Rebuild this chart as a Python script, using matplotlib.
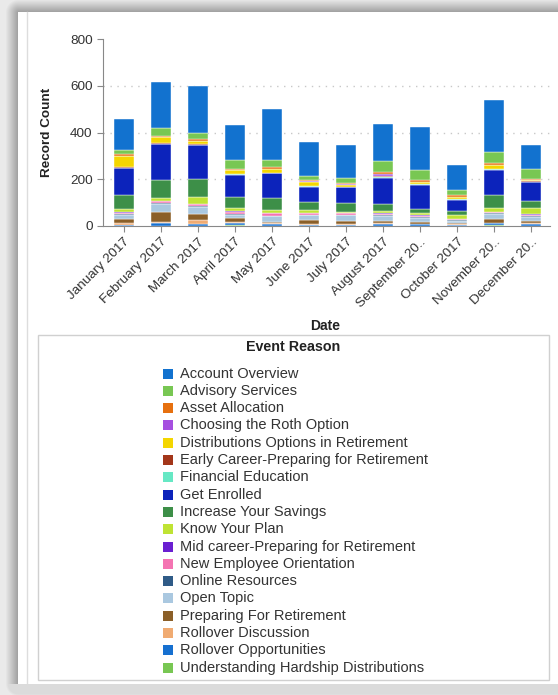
import numpy as np
import matplotlib
matplotlib.use('Agg')
import matplotlib.pyplot as plt
from matplotlib.patches import Rectangle

plt.rcParams['font.family'] = ['Liberation Sans', 'DejaVu Sans']

W, H = 558, 695

months = ['January 2017', 'February 2017', 'March 2017', 'April 2017', 'May 2017',
          'June 2017', 'July 2017', 'August 2017', 'September 20..', 'October 2017',
          'November 20..', 'December 20..']

reasons = ['Account Overview', 'Advisory Services', 'Asset Allocation',
           'Choosing the Roth Option', 'Distributions Options in Retirement',
           'Early Career-Preparing for Retirement', 'Financial Education',
           'Get Enrolled', 'Increase Your Savings', 'Know Your Plan',
           'Mid career-Preparing for Retirement', 'New Employee Orientation',
           'Online Resources', 'Open Topic', 'Preparing For Retirement',
           'Rollover Discussion', 'Rollover Opportunities',
           'Understanding Hardship Distributions']

colors = ['#1272cf', '#78c753', '#e6700f', '#a64fe0', '#f4d600', '#a3361a',
          '#66e8c4', '#0c23bb', '#3d8f48', '#bfe334', '#6a1fd1', '#f474b2',
          '#2f5b87', '#aac8e0', '#8b5f28', '#f0ab72', '#1670d0', '#78c753']

account_overview = [132, 194, 200, 150, 219, 144, 141, 160, 181, 110, 223, 105]
advisory_services = [17, 35, 26, 40, 31, 18, 24, 49, 45, 21, 50, 40]
asset_allocation = [9, 4, 7, 5, 7, 5, 5, 5, 6, 6, 7, 5]
roth_option = [1, 1, 1, 1, 1, 1, 1, 8, 1, 1, 1, 1]
distributions = [46, 28, 15, 16, 15, 20, 9, 4, 9, 9, 17, 5]
early_career = [2, 1, 1, 1, 1, 1, 1, 3, 1, 1, 1, 3]
financial_education = [3, 2, 2, 2, 2, 2, 2, 4, 4, 3, 3, 2]
get_enrolled = [116, 153, 143, 95, 107, 66, 68, 112, 101, 48, 108, 80]
increase_savings = [57, 79, 79, 49, 50, 34, 38, 29, 19, 16, 53, 29]
know_your_plan = [16, 10, 30, 12, 11, 12, 4, 9, 9, 17, 16, 27]
mid_career = [2, 3, 2, 2, 3, 1, 1, 2, 2, 1, 3, 5]
new_employee = [5, 7, 8, 8, 10, 6, 6, 6, 5, 5, 4, 3]
online_resources = [5, 4, 4, 4, 3, 3, 3, 3, 3, 2, 3, 3]
open_topic = [17, 32, 30, 13, 22, 20, 22, 22, 18, 9, 22, 17]
preparing = [18, 43, 26, 18, 7, 16, 15, 9, 8, 4, 16, 12]
rollover_discussion = [5, 5, 16, 4, 3, 5, 5, 3, 3, 6, 3, 3]
rollover_opportunities = [5, 12, 6, 11, 7, 3, 2, 8, 5, 2, 8, 6]
hardship = [1, 2, 2, 3, 2, 1, 1, 2, 2, 1, 3, 2]

series = [account_overview, advisory_services, asset_allocation, roth_option,
          distributions, early_career, financial_education, get_enrolled,
          increase_savings, know_your_plan, mid_career, new_employee,
          online_resources, open_topic, preparing, rollover_discussion,
          rollover_opportunities, hardship]

fig = plt.figure(figsize=(W / 100, H / 100), dpi=100)

# background with card shadow
bg = fig.add_axes([0, 0, 1, 1])
yy, xx = np.mgrid[0:H, 0:W]
dx = np.clip(18 - xx, 0, None)
dy = np.clip(12 - yy, 0, None) + np.clip(yy - 683, 0, None)
d = np.sqrt(dx ** 2 + dy ** 2)
g = np.where(d > 0, 0.62 + 0.30 * np.clip(d / 13, 0, 1), 1.0)
g = np.where(yy > 683, np.maximum(g, 0.86), g)
bg.imshow(np.dstack([g, g, g]), extent=[0, W, H, 0], aspect='auto', interpolation='bilinear')
bg.plot([26.5, 26.5], [12, 683], color='#dddddd', lw=1)
bg.set_xlim(0, W)
bg.set_ylim(H, 0)
bg.axis('off')

# chart
ax = fig.add_axes([103 / W, 1 - 226 / H, 447 / W, 187 / H])
x = np.arange(len(months))
bottom = np.zeros(len(months))
for vals, col in zip(series[::-1], colors[::-1]):
    ax.bar(x, vals, 0.54, bottom=bottom, color=col, edgecolor='white', linewidth=0.3, zorder=3)
    bottom += np.array(vals)

ax.set_xlim(-0.56, 11.5)
ax.set_ylim(0, 800)
ax.set_yticks([0, 200, 400, 600, 800])
for v in [200, 400, 600]:
    ax.axhline(v, color='#c8c8c8', lw=1, ls=(0, (1, 4)), zorder=1)
ax.set_xticks(x)
ax.set_xticklabels(months, rotation=45, ha='right', va='top', rotation_mode='anchor')
ax.tick_params(axis='both', colors='#888888', labelcolor='#333333', labelsize=9.7, length=4)
ax.tick_params(axis='x', pad=3)
for s in ['top', 'right']:
    ax.spines[s].set_visible(False)
for s in ['left', 'bottom']:
    ax.spines[s].set_color('#888888')
ax.set_ylabel('Record Count', fontsize=9.7, fontweight='bold', color='#222222', labelpad=12)
fig.text(325 / W, 1 - 326 / H, 'Date', ha='center', va='center', fontsize=10,
         fontweight='bold', color='#222222')

# legend box
lg = fig.add_axes([0, 0, 1, 1], facecolor='none')
lg.set_xlim(0, W)
lg.set_ylim(H, 0)
lg.axis('off')
lg.add_patch(Rectangle((38, 335), 511, 345, fill=False, edgecolor='#d0d0d0', lw=1))
lg.text(293, 347, 'Event Reason', ha='center', va='center', fontsize=10.3,
        fontweight='bold', color='#222222')
for i, (name, col) in enumerate(zip(reasons, colors)):
    yc = 373.5 + i * 17.3
    lg.add_patch(Rectangle((163, yc - 5), 10, 10, facecolor=col, edgecolor='none'))
    lg.text(180, yc, name, ha='left', va='center', fontsize=10.5, color='#333333')

fig.savefig('out.png', dpi=100)
